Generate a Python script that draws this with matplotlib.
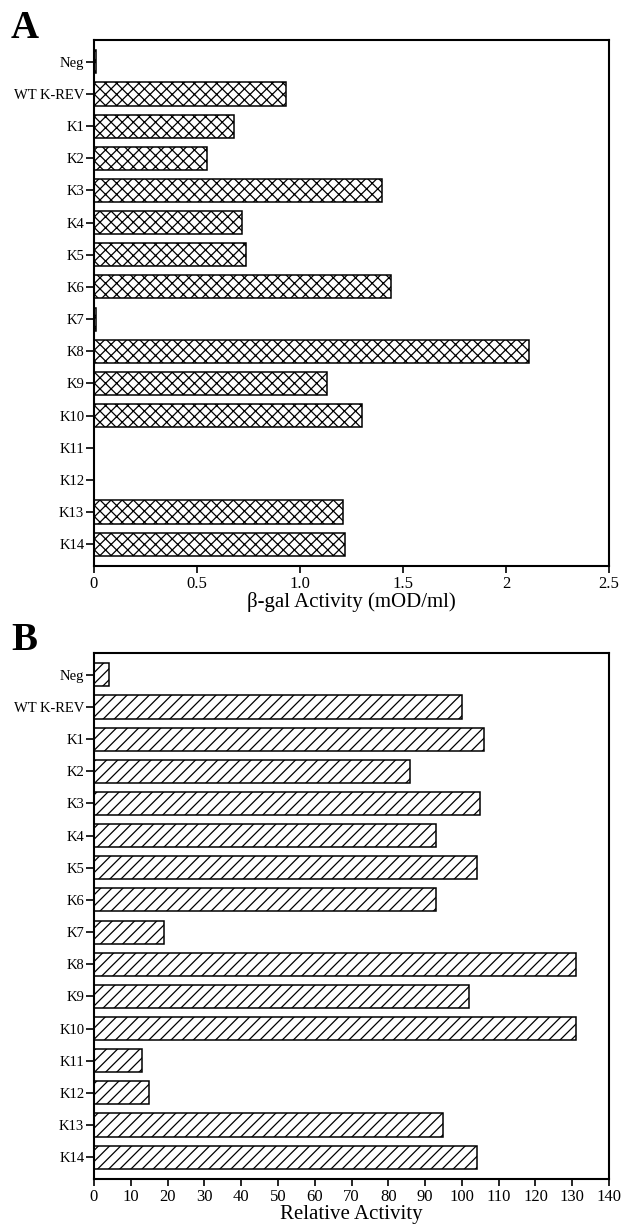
import matplotlib
matplotlib.use('Agg')
import matplotlib.pyplot as plt

plt.rcParams['font.family'] = ['Liberation Serif', 'DejaVu Serif']
plt.rcParams['hatch.linewidth'] = 0.9

# 데이터
constructs = ['Neg', 'WT K-REV', 'K1', 'K2', 'K3', 'K4', 'K5', 'K6', 'K7',
              'K8', 'K9', 'K10', 'K11', 'K12', 'K13', 'K14']
bgal_activity = [0.01, 0.93, 0.68, 0.55, 1.40, 0.72, 0.74, 1.44, 0.01,
                 2.11, 1.13, 1.30, 0.0, 0.0, 1.21, 1.22]
relative_activity = [4, 100, 106, 86, 105, 93, 104, 93, 19,
                     131, 102, 131, 13, 15, 95, 104]

a_ticks = [0, 0.5, 1.0, 1.5, 2, 2.5]
a_ticklabels = ['0', '0.5', '1.0', '1.5', '2', '2.5']
b_ticks = list(range(0, 141, 10))

W, H = 623, 1230
fig = plt.figure(figsize=(W / 100, H / 100), dpi=100)


def panel(box, values, hatch, xticks, xticklabels, xmax, xlabel):
    l, t, r, b = box
    ax = fig.add_axes([l / W, 1 - b / H, (r - l) / W, (b - t) / H])
    y = list(range(len(constructs)))
    ax.barh(y, values, height=0.72, color='white', edgecolor='black',
            linewidth=1.1, hatch=hatch)
    ax.set_ylim(len(constructs) - 1 + 0.68, -0.68)
    ax.set_xlim(0, xmax)
    ax.set_yticks(y)
    ax.set_yticklabels(constructs, fontsize=10.5)
    ax.set_xticks(xticks)
    ax.set_xticklabels(xticklabels, fontsize=12)
    ax.tick_params(axis='y', length=6, width=1.2, pad=1)
    ax.tick_params(axis='x', length=5, width=1.2, pad=2)
    for s in ax.spines.values():
        s.set_linewidth(1.5)
    ax.set_xlabel(xlabel, fontsize=15, labelpad=0)
    return ax


panel((94, 40, 609, 566), bgal_activity, 'xxx', a_ticks, a_ticklabels, 2.5,
      'β-gal Activity (mOD/ml)')
panel((94, 653, 609, 1179), relative_activity, '///', b_ticks,
      [str(v) for v in b_ticks], 140, 'Relative Activity')

fig.text(11 / W, 1 - 38 / H, 'A', fontsize=28, fontweight='bold', va='baseline')
fig.text(11 / W, 1 - 650 / H, 'B', fontsize=28, fontweight='bold', va='baseline')

fig.savefig('out.png', dpi=100, facecolor='white')
